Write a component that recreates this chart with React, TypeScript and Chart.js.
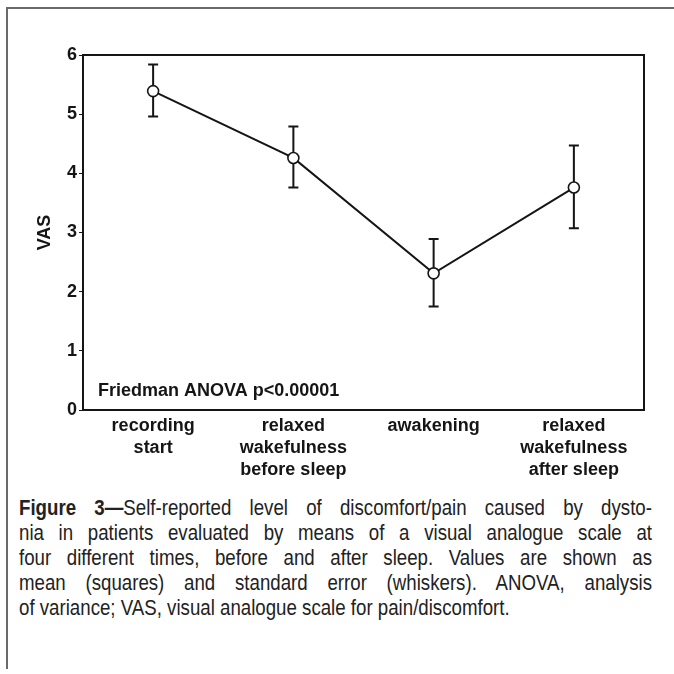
import React, { useEffect, useRef } from "react";
import { Chart, registerables } from "chart.js";

Chart.register(...registerables);

const categories: string[][] = [
  ["recording", "start"],
  ["relaxed", "wakefulness", "before sleep"],
  ["awakening"],
  ["relaxed", "wakefulness", "after sleep"],
];
const means = [5.39, 4.26, 2.31, 3.76];
const upperSE = [5.84, 4.79, 2.89, 4.47];
const lowerSE = [4.96, 3.76, 1.75, 3.07];
const yMin = 0;
const yMax = 6;
const yStep = 1;
const yTitle = "VAS";
const annotation = "Friedman ANOVA p<0.00001";
const captionBold = "Figure 3\u2014";
const captionLines = [
  "Self-reported level of discomfort/pain caused by dysto-",
  "nia in patients evaluated by means of a visual analogue scale at",
  "four different times, before and after sleep. Values are shown as",
  "mean (squares) and standard error (whiskers). ANOVA, analysis",
  "of variance; VAS, visual analogue scale for pain/discomfort.",
];

const FONT = '"Liberation Sans", Arial, Helvetica, sans-serif';
const INK = "#151515";

const frameAndErrorPlugin = {
  id: "frameAndError",
  beforeDatasetsDraw(chart: any) {
    const { ctx } = chart;
    const xs = chart.scales.x;
    const ys = chart.scales.y;
    ctx.save();
    ctx.strokeStyle = INK;
    ctx.lineWidth = 2;
    ctx.lineCap = "butt";
    for (let i = 0; i < means.length; i++) {
      const x = xs.getPixelForValue(i);
      const yt = ys.getPixelForValue(upperSE[i]);
      const yb = ys.getPixelForValue(lowerSE[i]);
      ctx.beginPath();
      ctx.moveTo(x, yt);
      ctx.lineTo(x, yb);
      ctx.moveTo(x - 5, yt);
      ctx.lineTo(x + 5, yt);
      ctx.moveTo(x - 5, yb);
      ctx.lineTo(x + 5, yb);
      ctx.stroke();
    }
    ctx.restore();
  },
  afterDraw(chart: any) {
    const { ctx, chartArea } = chart;
    ctx.save();
    ctx.strokeStyle = INK;
    ctx.lineWidth = 2;
    ctx.strokeRect(
      chartArea.left,
      chartArea.top,
      chartArea.right - chartArea.left,
      chartArea.bottom - chartArea.top
    );
    ctx.fillStyle = INK;
    ctx.font = `bold 18px ${FONT}`;
    ctx.textAlign = "left";
    ctx.textBaseline = "alphabetic";
    ctx.fillText(annotation, chartArea.left + 15, chartArea.bottom - 14);
    ctx.restore();
  },
};

export default function App() {
  const canvasRef = useRef<HTMLCanvasElement | null>(null);

  useEffect(() => {
    document.body.style.margin = "0";
    const canvas = canvasRef.current;
    if (!canvas) return;
    const chart = new Chart(canvas, {
      type: "line",
      data: {
        labels: categories,
        datasets: [
          {
            data: means,
            borderColor: INK,
            borderWidth: 2,
            pointRadius: 5.5,
            pointHoverRadius: 5.5,
            pointBackgroundColor: "#ffffff",
            pointBorderColor: INK,
            pointBorderWidth: 1.6,
            tension: 0,
            fill: false,
          },
        ],
      },
      options: {
        animation: false,
        responsive: false,
        devicePixelRatio: 1,
        events: [],
        layout: { padding: { left: 0, right: 30, top: 55, bottom: 0 } },
        plugins: {
          legend: { display: false },
          tooltip: { enabled: false },
          title: { display: false },
        },
        scales: {
          x: {
            type: "category",
            offset: true,
            grid: { display: false },
            border: { display: false },
            ticks: {
              color: INK,
              padding: -3,
              maxRotation: 0,
              autoSkip: false,
              font: { family: FONT, size: 18, weight: "bold", lineHeight: 1.22 },
            },
            afterFit(axis: any) {
              axis.height = 80;
            },
          },
          y: {
            min: yMin,
            max: yMax,
            grid: {
              drawOnChartArea: false,
              drawTicks: true,
              tickLength: 4,
              color: INK,
              lineWidth: 1,
            },
            border: { display: false },
            ticks: {
              stepSize: yStep,
              color: INK,
              padding: 2,
              font: { family: FONT, size: 18, weight: "bold" },
            },
            title: {
              display: true,
              text: yTitle,
              color: INK,
              font: { family: FONT, size: 18, weight: "bold" },
              padding: { top: 34, bottom: 0 },
            },
            afterFit(axis: any) {
              axis.width = 83;
            },
          },
        },
      },
      plugins: [frameAndErrorPlugin],
    });
    return () => chart.destroy();
  }, []);

  const SCALE = 0.83;
  const lineStyle = (last: boolean): React.CSSProperties => ({
    position: "absolute",
    left: 0,
    width: 633 / SCALE,
    textAlign: "justify",
    textAlignLast: last ? "left" : "justify",
    whiteSpace: "nowrap",
  });

  return (
    <div
      style={{
        position: "fixed",
        left: 0,
        top: 0,
        width: 674,
        height: 674,
        background: "#ffffff",
        overflow: "hidden",
      }}
    >
      <div style={{ position: "absolute", left: 6, top: 7, width: 668, height: 2, background: "#6a6a6a" }} />
      <div style={{ position: "absolute", left: 6, top: 7, width: 2, height: 662, background: "#6a6a6a" }} />
      <canvas
        ref={canvasRef}
        width={674}
        height={490}
        style={{ position: "absolute", left: 0, top: 0, width: 674, height: 490 }}
      />
      <div
        style={{
          position: "absolute",
          left: 19,
          top: 0,
          width: 633 / SCALE,
          transform: `scaleX(${SCALE})`,
          transformOrigin: "0 0",
          fontFamily: FONT,
          fontSize: 22.5,
          lineHeight: "25px",
          color: "#222222",
        }}
      >
        {captionLines.map((t, i) => (
          <div key={i} style={{ ...lineStyle(i === captionLines.length - 1), top: 495 + i * 25 }}>
            {i === 0 ? <b>{captionBold}</b> : null}
            {t}
          </div>
        ))}
      </div>
    </div>
  );
}
